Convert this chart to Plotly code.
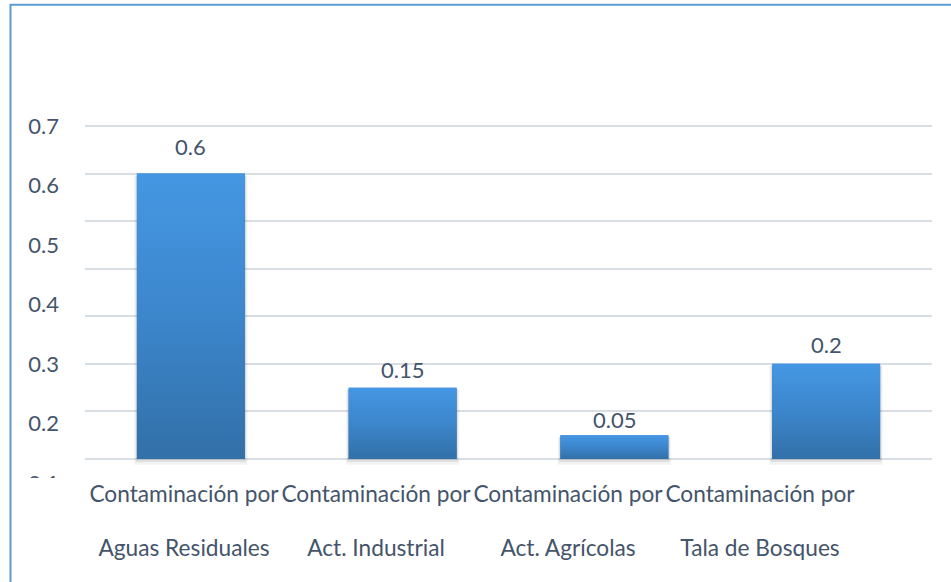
import plotly.graph_objects as go

# ---- data ----
cat_line1 = ["Contaminación por", "Contaminación por", "Contaminación por", "Contaminación por"]
cat_line2 = ["Aguas Residuales", "Act. Industrial", "Act. Agrícolas", "Tala de Bosques"]
values = [0.6, 0.15, 0.05, 0.2]
y_tick_labels = ["0.1", "0.2", "0.3", "0.4", "0.5", "0.6", "0.7"]

# ---- layout geometry (pixels) ----
W, H = 951, 582
L, R = 85, 932            # plot area left / right
TOP, BOT = 100, 520       # plotting region top / bottom
Y0_PX, Y07_PX = 459, 126  # pixel rows of value 0 and 0.7
bar_scale = (Y0_PX - Y07_PX) / 0.7          # px per unit for bars / grid
label_scale = 595.0                         # px per unit for the value axis labels
cat_first_px, cat_step_px = 184.0, 192.0    # centres of the category labels

TEXT = "#44546A"
FONT = "Lato"
FS = 22
FS_CAT = 22.7
GRID = "#D9DEE5"

n = len(values)
pos = list(range(n))
bw = 0.51

# main y axis: slightly below zero so the bar shadow shows
y_low = -0.02
y_bot_px = Y0_PX - y_low * bar_scale
y_dom0 = (BOT - y_bot_px) / (BOT - TOP)
y_high = (Y0_PX - TOP) / bar_scale

# label axis (y2) range spanning the whole plotting region
y2_lo = 0.7 - (BOT - Y07_PX) / label_scale
y2_hi = 0.7 + (Y07_PX - TOP) / label_scale

# category label axis range
x2_lo = (L - cat_first_px) / cat_step_px
x2_hi = (R - cat_first_px) / cat_step_px

fig = go.Figure()

# soft shadow behind each bar
for i, v in zip(pos, values):
    for grow, dy, alpha in [(0.012, 0.012, 0.05), (0.006, 0.006, 0.09)]:
        x0, x1 = i - bw / 2 - grow, i + bw / 2 + grow
        fig.add_trace(go.Scatter(
            x=[x0, x1, x1, x0, x0], y=[-dy, -dy, v - 0.004, v - 0.004, -dy],
            fill="toself", fillcolor=f"rgba(0,0,0,{alpha})", mode="lines",
            line=dict(width=0), hoverinfo="skip", showlegend=False))

# the bars
fig.add_trace(go.Bar(x=pos, y=values, width=bw, marker=dict(color="#3D86CC", line=dict(width=0)),
                     hoverinfo="skip", showlegend=False))

# vertical gradient on each bar
for i, v in zip(pos, values):
    x0, x1 = i - bw / 2, i + bw / 2
    fig.add_trace(go.Scatter(
        x=[x0, x1, x1, x0, x0], y=[0, 0, v, v, 0], fill="toself", mode="lines",
        line=dict(width=0),
        fillgradient=dict(type="vertical",
                          colorscale=[[0, "#3270A8"], [0.5, "#3C86CC"], [1, "#4597E3"]]),
        hoverinfo="skip", showlegend=False))

# helper traces so the label axes are drawn
fig.add_trace(go.Scatter(x=[None], y=[None], xaxis="x", yaxis="y2", showlegend=False, hoverinfo="skip"))
fig.add_trace(go.Scatter(x=[None], y=[None], xaxis="x2", yaxis="y", showlegend=False, hoverinfo="skip"))
fig.add_trace(go.Scatter(x=[None], y=[None], xaxis="x3", yaxis="y", showlegend=False, hoverinfo="skip"))

# value labels above the bars (gap grows a little with bar height)
for i, v in zip(pos, values):
    fig.add_annotation(x=i, y=v, text=f"{v:g}", showarrow=False, yanchor="middle",
                       yshift=15 + 20 * v,
                       font=dict(family=FONT, size=FS, color=TEXT))

y_tick_vals = [float(t) for t in y_tick_labels]

fig.update_layout(
    width=W, height=H,
    margin=dict(l=L, r=W - R, t=TOP, b=H - BOT),
    paper_bgcolor="white", plot_bgcolor="rgba(0,0,0,0)",
    font=dict(family=FONT, size=FS, color=TEXT),
    showlegend=False,
    xaxis=dict(range=[-0.5, n - 0.5], showticklabels=False, showgrid=False, zeroline=False,
               showline=False, ticks=""),
    xaxis2=dict(overlaying="x", anchor="y", side="bottom", range=[x2_lo, x2_hi],
                tickmode="array", tickvals=pos, ticktext=cat_line1, showgrid=False,
                zeroline=False, showline=False, ticks="", ticklabelstandoff=10,
                tickfont=dict(family=FONT, size=FS_CAT, color=TEXT)),
    xaxis3=dict(overlaying="x", anchor="y", side="bottom", range=[x2_lo, x2_hi],
                tickmode="array", tickvals=pos, ticktext=cat_line2, showgrid=False,
                zeroline=False, showline=False, ticks="", ticklabelstandoff=64,
                tickfont=dict(family=FONT, size=FS_CAT, color=TEXT)),
    yaxis=dict(domain=[y_dom0, 1], range=[y_low, y_high], tick0=0, dtick=0.1,
               showticklabels=False, showgrid=True, gridcolor=GRID, gridwidth=1.6,
               zeroline=False, showline=False, ticks=""),
    yaxis2=dict(domain=[0, 1], anchor="free", position=0, side="left",
                range=[y2_lo, y2_hi], tickmode="array", tickvals=y_tick_vals,
                ticktext=y_tick_labels, showgrid=False, zeroline=False, showline=False,
                ticks="", ticklabelstandoff=26,
                tickfont=dict(family=FONT, size=FS, color=TEXT)),
)

def px_x(p):
    return (p - L) / (R - L)

def px_y(p):
    return (BOT - p) / (BOT - TOP)

# outer frame of the chart
fig.add_shape(type="rect", xref="paper", yref="paper",
              x0=px_x(10.5), x1=px_x(1000), y0=px_y(4.8), y1=px_y(700),
              line=dict(color="#5B9BD5", width=2), fillcolor="rgba(0,0,0,0)", layer="below")

# the lowest value label is clipped by the chart area
fig.add_shape(type="rect", xref="paper", yref="paper",
              x0=px_x(15), x1=px_x(80), y0=px_y(478), y1=px_y(508),
              line=dict(width=0), fillcolor="white", layer="above")

fig.write_html("out.html")
